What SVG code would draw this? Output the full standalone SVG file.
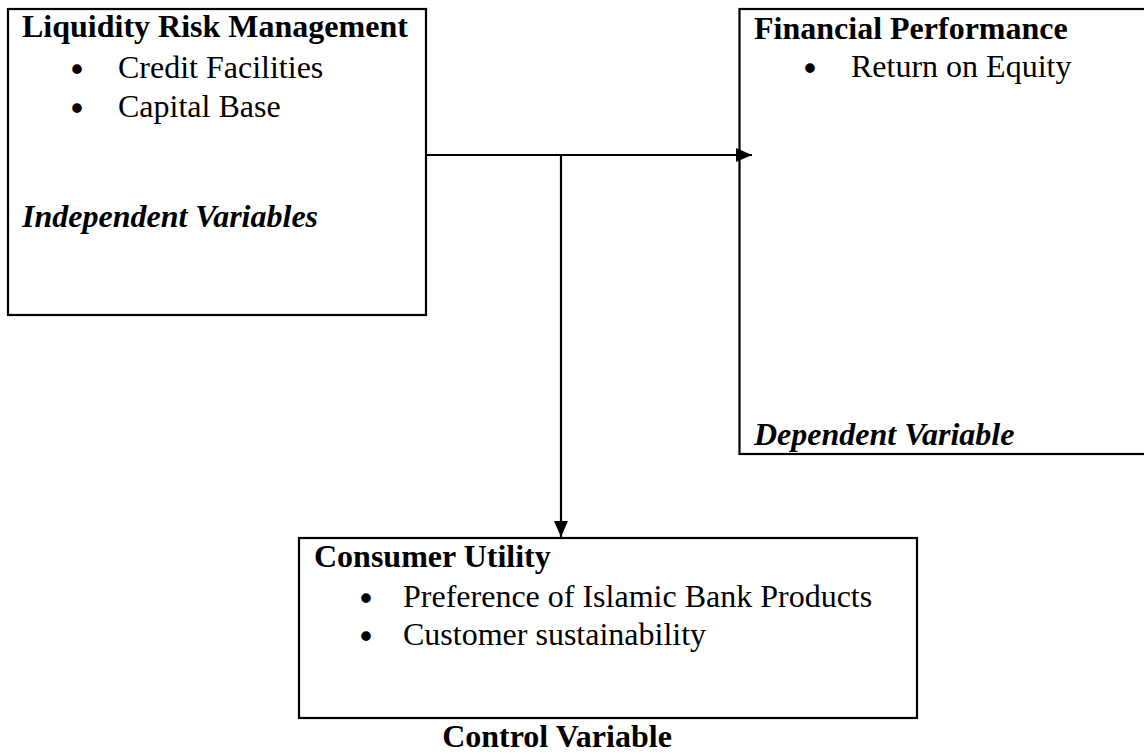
<svg xmlns="http://www.w3.org/2000/svg" width="1144" height="754" viewBox="0 0 1144 754">
<style>
.box{fill:#fff;stroke:#000;stroke-width:2.2}
.t{font-family:"Liberation Serif","Times New Roman",serif;font-size:32px;fill:#000}
.b{font-weight:bold}
.bi{font-weight:bold;font-style:italic}
.bul{font-family:"DejaVu Sans",sans-serif;font-size:33px}
.line{stroke:#000;stroke-width:2.2;fill:none}
</style>
<defs>
<marker id="ah" markerWidth="16" markerHeight="14" refX="16" refY="7" orient="auto" markerUnits="userSpaceOnUse">
<path d="M0,0 L16,7 L0,14 Z" fill="#000"/>
</marker>
</defs>
<rect width="1144" height="754" fill="#fff"/>
<g id="independent">
<rect class="box" x="8" y="9" width="418" height="306"/>
<text class="t b" x="22" y="37">Liquidity Risk Management</text>
<text class="t"><tspan class="bul" x="67.3" y="82">•</tspan><tspan x="118" y="78">Credit Facilities</tspan></text>
<text class="t"><tspan class="bul" x="67.3" y="121">•</tspan><tspan x="118" y="117">Capital Base</tspan></text>
<text class="t bi" x="22" y="227">Independent Variables</text>
</g>
<g id="dependent">
<rect class="box" x="739.5" y="9" width="420" height="445"/>
<text class="t b" x="754" y="39">Financial Performance</text>
<text class="t"><tspan class="bul" x="800.3" y="81">•</tspan><tspan x="851" y="77">Return on Equity</tspan></text>
<text class="t bi" x="754" y="445">Dependent Variable</text>
</g>
<g id="control">
<rect class="box" x="299" y="538" width="618" height="180"/>
<text class="t b" x="314" y="567">Consumer Utility</text>
<text class="t"><tspan class="bul" x="356.3" y="611">•</tspan><tspan x="403" y="607">Preference of Islamic Bank Products</tspan></text>
<text class="t"><tspan class="bul" x="356.3" y="649">•</tspan><tspan x="403" y="645">Customer sustainability</tspan></text>
<text class="t b" x="557" y="747" text-anchor="middle">Control Variable</text>
</g>
<g id="connectors">
<line class="line" x1="426" y1="155" x2="752" y2="155" marker-end="url(#ah)"/>
<line class="line" x1="561" y1="155" x2="561" y2="537" marker-end="url(#ah)"/>
</g>
</svg>
